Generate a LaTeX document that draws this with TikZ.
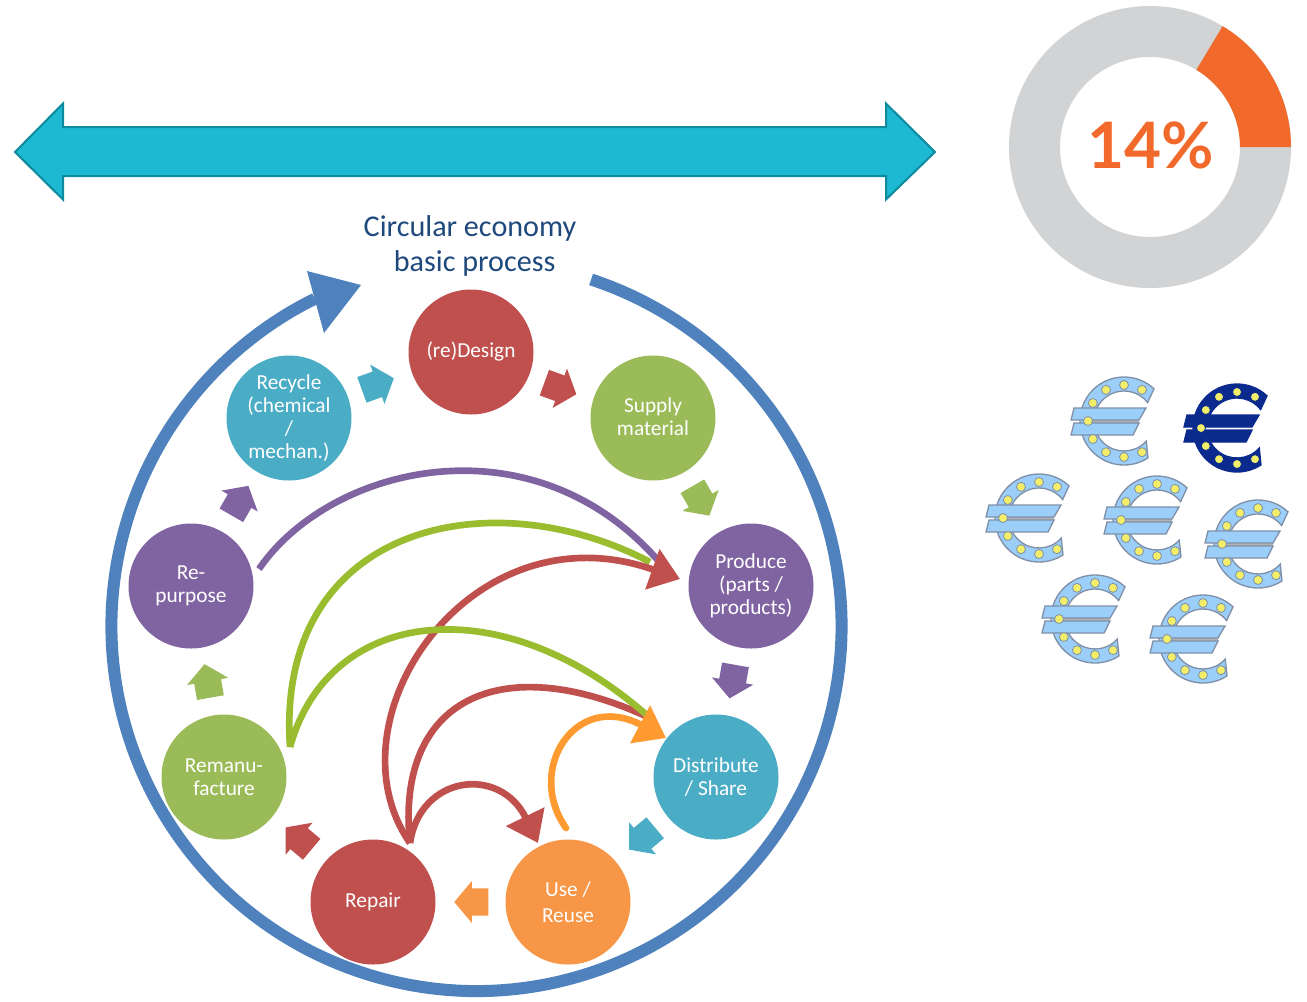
\documentclass[tikz,border=0pt]{standalone}
\usepackage{fontspec}
\setmainfont{Carlito}
\newfontfamily\pctfont{Lato}
\usetikzlibrary{arrows.meta,shapes.arrows,shapes.geometric}

\definecolor{ringblue}{HTML}{4F81BD}
\definecolor{titleblue}{HTML}{1F497D}
\definecolor{redA}{HTML}{C0504D}
\definecolor{greenA}{HTML}{9BBB59}
\definecolor{greenB}{HTML}{9ABD2F}
\definecolor{purpleA}{HTML}{8064A2}
\definecolor{tealA}{HTML}{4BACC6}
\definecolor{orangeA}{HTML}{F79646}
\definecolor{orangeB}{HTML}{FF9A30}
\definecolor{bigteal}{HTML}{1DB8D1}
\definecolor{bigedge}{HTML}{0E8A9E}
\definecolor{donutgrey}{HTML}{D1D3D4}
\definecolor{donutorange}{HTML}{F26A2B}
\definecolor{eurolight}{HTML}{9CCEFA}
\definecolor{euroedge}{HTML}{7F90A8}
\definecolor{eurodark}{HTML}{0B2A8E}
\definecolor{eurostar}{HTML}{F2EE6A}

\tikzset{
  stage/.style={circle, fill=#1, minimum size=93.75pt, inner sep=0pt, align=center,
    text=white, font=\fontsize{16}{17.25}\selectfont},
  step arrow/.style={single arrow, fill=#1, minimum height=25.5pt, inner xsep=0pt, inner ysep=10pt,
    single arrow head extend=5.5pt, single arrow tip angle=100},
  flow/.style={draw=#1, line width=5pt},
  head/.style={-{Triangle[length=22pt, width=31pt]}},
  pics/euro/.style n args={3}{code={
    \draw[fill=#1, draw=#2, line width=1pt] (47:44) arc (47:303:44) -- (318:30) arc (318:38:30) -- cycle;
    \fill[#3] (-37,1) rectangle (15,-2);
    \draw[fill=#1, draw=#2, line width=1pt] (-50,13) -- (22,13) -- (15,1) -- (-53,1) -- cycle;
    \draw[fill=#1, draw=#2, line width=1pt] (-50,-2) -- (15,-2) -- (9,-14) -- (-53,-14) -- cycle;
    \foreach \a in {60,90,...,300}
      \fill[eurostar, draw=#2, line width=.6pt] (\a:36) circle (4.5);
  }}
}

\begin{document}
\begin{tikzpicture}[x=.75pt, y=.75pt]

  \useasboundingbox (0,0) rectangle (1307,-1001);

  % double arrow
  \draw[fill=bigteal, draw=bigedge, line width=1.5pt] (15,-152) -- (63,-103.5) -- (63,-127) -- (886,-127)
    -- (886,-103.5) -- (935,-152) -- (886,-199.5) -- (886,-176) -- (63,-176) -- (63,-199.5) -- cycle;

  % donut
  \fill[donutgrey, even odd rule] (1150,-147) circle (141) (1150,-147) circle (90);
  \fill[donutorange] (1291,-147) arc (0:59:141) -- ++(239:51) arc (59:0:90) -- cycle;
  \node (pct) at (1151,-145) {\pctfont\fontsize{48}{48}\selectfont\bfseries\textcolor{donutorange}{14\%}};

  % ring
  \draw[ringblue, line width=9pt] (71.7:365) ++(476.5,-626) arc (71.7:-243.7:365);
  \fill[ringblue] (307,-271) -- (361,-285) -- (324,-333) -- cycle;

  \node[font=\fontsize{22.6}{26.25}\selectfont, text=titleblue, align=center] (title) at (470,-246)
    {Circular economy\\\hspace*{7pt}basic process};

  \node[stage=redA] (redesign) at (471,-352) {(re)Design};
  \node[stage=greenA] (supply) at (653,-418) {\raisebox{2pt}{Supply}\\\raisebox{2pt}{material}};
  \node[stage=purpleA] (produce) at (751,-586) {Produce\\(parts /\\products)};
  \node[stage=tealA] (distribute) at (716,-777) {Distribute\\/ Share};
  \node[stage=orangeA] (use) at (568,-902) {\raisebox{2pt}{Use /}\\Reuse};
  \node[stage=redA] (repair) at (373,-902) {Repair};
  \node[stage=greenA] (remanu) at (224,-777) {Remanu-\\facture};
  \node[stage=purpleA] (repurpose) at (191,-586) {\raisebox{-2pt}{Re-}\\\raisebox{-2pt}{purpose}};
  \node[stage=tealA] (recycle) at (289,-418) {Recycle\\(chemical\\/\\mechan.)};

  \node[step arrow=tealA, rotate=20] (s1) at (372.5,-386) {};
  \node[step arrow=redA, rotate=-20] (s2) at (555,-386.5) {};
  \node[step arrow=greenA, rotate=-60] (s3) at (698,-496) {};
  \node[step arrow=purpleA, rotate=-100] (s4) at (733.5,-676) {};
  \node[step arrow=tealA, rotate=220] (s5) at (646.5,-835) {};
  \node[step arrow=orangeA, rotate=180] (s6) at (477,-902) {};
  \node[step arrow=redA, rotate=140] (s7) at (303,-842) {};
  \node[step arrow=greenA, rotate=100] (s8) at (208.5,-686.5) {};
  \node[step arrow=purpleA, rotate=60] (s9) at (237,-505.5) {};

  \coordinate (repurposeout) at (259,-569);
  \coordinate (remanuout) at (290,-747);
  \coordinate (repairout) at (410,-843);
  \coordinate (useout) at (566,-828);
  \coordinate (produceinA) at (662,-565);
  \coordinate (produceinB) at (650,-562);
  \coordinate (producetip) at (680,-579);
  \coordinate (distinA) at (650,-718);
  \coordinate (disttip) at (666,-738);
  \coordinate (usetip) at (538,-843);

  \draw[flow=purpleA] (repurposeout) .. controls (330,-465) and (535,-415) .. (produceinA);
  \draw[flow=greenB] (remanuout) .. controls (275,-525) and (490,-478) .. (produceinB);
  \draw[flow=redA, head] (repairout) .. controls (325,-720) and (470,-505) .. (producetip);
  \draw[flow=redA] (repairout) .. controls (395,-700) and (500,-648) .. (distinA);
  \draw[flow=greenB] (remanuout) .. controls (330,-604) and (505,-588) .. (distinA);
  \draw[flow=redA, head] (repairout) .. controls (420,-775) and (500,-765) .. (usetip);
  \draw[flow=orangeB, head, line cap=round] (useout) .. controls (525,-770) and (575,-690) .. (disttip);

  % euros
  \pic at (1124,-421) {euro={eurolight}{euroedge}{gray!60}};
  \pic at (1237,-428) {euro={eurodark}{eurodark}{white}};
  \pic at (1039,-518) {euro={eurolight}{euroedge}{gray!60}};
  \pic at (1157,-520) {euro={eurolight}{euroedge}{gray!60}};
  \pic at (1258,-544) {euro={eurolight}{euroedge}{gray!60}};
  \pic at (1095,-619) {euro={eurolight}{euroedge}{gray!60}};
  \pic at (1203,-639) {euro={eurolight}{euroedge}{gray!60}};

\end{tikzpicture}
\end{document}
